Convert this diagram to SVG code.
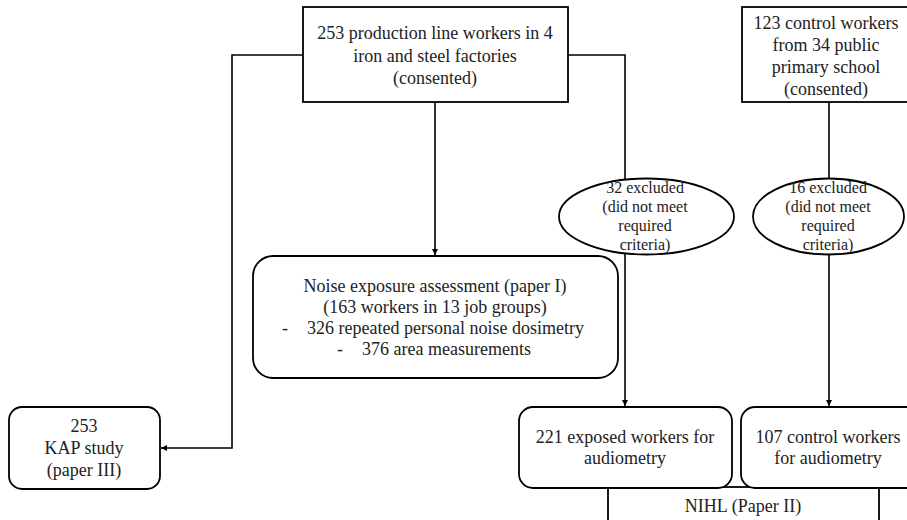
<svg xmlns="http://www.w3.org/2000/svg" width="907" height="520" viewBox="0 0 907 520">
  <defs>
    <marker id="arrow" viewBox="0 0 10 10" refX="10" refY="5" markerWidth="6" markerHeight="6" markerUnits="userSpaceOnUse" orient="auto">
      <path d="M0,0 L10,5 L0,10 z" fill="#000"/>
    </marker>
    <style>
      .box { fill: #fff; stroke: #000; stroke-width: 1.8; }
      .edge { fill: none; stroke: #000; stroke-width: 1.6; }
      .lbl text { fill: #222; text-anchor: middle; }
      .t { font-size: 18px; }
      .s { font-size: 16px; }
    </style>
  </defs>
  <rect width="907" height="520" fill="#fff"/>

  <!-- connectors -->
  <g id="connectors">
    <path class="edge" d="M303,55 H232 V448 H161" marker-end="url(#arrow)"/>
    <path class="edge" d="M435,102 V255" marker-end="url(#arrow)"/>
    <path class="edge" d="M568,55 H625 V179"/>
    <path class="edge" d="M625,254 V406" marker-end="url(#arrow)"/>
    <path class="edge" d="M829,102 V179"/>
    <path class="edge" d="M829,255 V406" marker-end="url(#arrow)"/>
  </g>

  <g class="lbl" font-family="'Liberation Serif', 'Times New Roman', 'DejaVu Serif', serif">
    <g id="factory-workers">
      <rect class="box" x="303" y="7" width="265" height="95"/>
      <text class="t" x="435" y="39">253 production line workers in 4</text>
      <text class="t" x="435" y="61.5">iron and steel factories</text>
      <text class="t" x="435" y="83.5">(consented)</text>
    </g>

    <g id="control-workers">
      <rect class="box" x="742" y="7" width="175" height="95"/>
      <text class="t" x="826" y="29">123 control workers</text>
      <text class="t" x="826" y="51">from 34 public</text>
      <text class="t" x="826" y="73">primary school</text>
      <text class="t" x="826" y="95">(consented)</text>
    </g>

    <g id="excluded-exposed">
      <ellipse class="box" cx="646.5" cy="216.5" rx="87.5" ry="38"/>
      <text class="s" x="645" y="193">32 excluded</text>
      <text class="s" x="645" y="212">(did not meet</text>
      <text class="s" x="645" y="231">required</text>
      <text class="s" x="645" y="250">criteria)</text>
    </g>

    <g id="excluded-control">
      <ellipse class="box" cx="828.5" cy="216.5" rx="75.5" ry="38"/>
      <text class="s" x="828" y="193">16 excluded</text>
      <text class="s" x="828" y="212">(did not meet</text>
      <text class="s" x="828" y="231">required</text>
      <text class="s" x="828" y="250">criteria)</text>
    </g>

    <g id="noise-assessment">
      <rect class="box" x="253" y="256" width="365" height="122" rx="20" ry="20"/>
      <text class="t" x="435" y="292">Noise exposure assessment (paper I)</text>
      <text class="t" x="435" y="313">(163 workers in 13 job groups)</text>
      <text class="t" x="285" y="334">-</text>
      <text class="t" x="307" y="334" text-anchor="start" style="text-anchor:start">326 repeated personal noise dosimetry</text>
      <text class="t" x="340" y="355">-</text>
      <text class="t" x="362" y="355" text-anchor="start" style="text-anchor:start">376 area measurements</text>
    </g>

    <g id="kap-study">
      <rect class="box" x="9" y="407" width="151" height="82" rx="13" ry="13"/>
      <text class="t" x="84" y="432">253</text>
      <text class="t" x="84" y="454">KAP study</text>
      <text class="t" x="84" y="476">(paper III)</text>
    </g>

    <g id="nihl">
      <rect class="box" x="608" y="487" width="271" height="40"/>
      <text class="t" x="743" y="512">NIHL (Paper II)</text>
    </g>

    <g id="exposed-audiometry">
      <rect class="box" x="519" y="407" width="213" height="81" rx="14" ry="14"/>
      <text class="t" x="625" y="443">221 exposed workers for</text>
      <text class="t" x="625" y="464">audiometry</text>
    </g>

    <g id="control-audiometry">
      <rect class="box" x="741" y="407" width="180" height="81" rx="14" ry="14"/>
      <text class="t" x="828" y="443">107 control workers</text>
      <text class="t" x="828" y="464">for audiometry</text>
    </g>
  </g>
</svg>
